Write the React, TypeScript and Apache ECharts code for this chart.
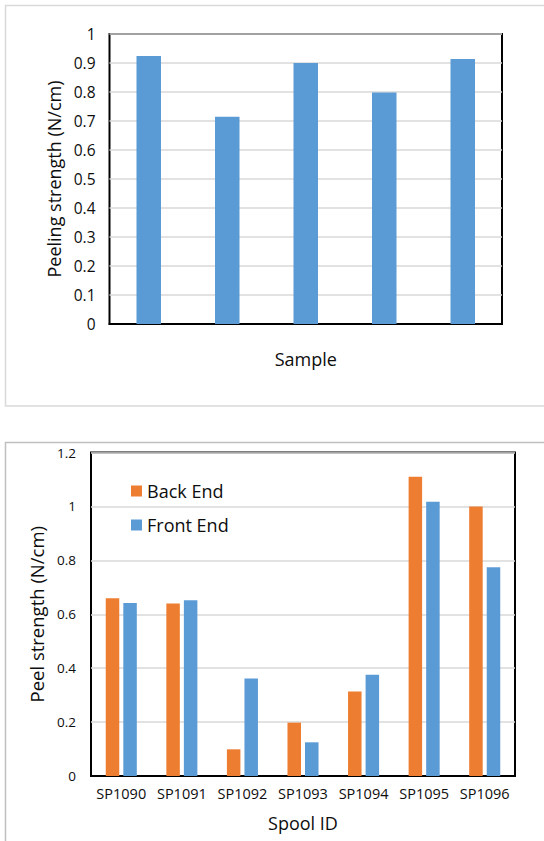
import React, { useEffect, useRef } from "react";
import * as echarts from "echarts";

const sampleCategories = ["1", "2", "3", "4", "5"];
const peelingStrength = [0.924, 0.715, 0.9, 0.798, 0.914];

const spoolIds = ["SP1090", "SP1091", "SP1092", "SP1093", "SP1094", "SP1095", "SP1096"];
const backEnd = [0.659, 0.64, 0.099, 0.198, 0.313, 1.11, 1.0];
const frontEnd = [0.642, 0.652, 0.362, 0.125, 0.376, 1.017, 0.774];

const FONT = "Open Sans";
const ORANGE = "#ED7D31";
const BLUE = "#5B9BD5";
const TEXT = "#0d0d0d";

export default function App() {
  const ref = useRef<HTMLDivElement>(null);
  useEffect(() => {
    if (!ref.current) return;
    const chart = echarts.init(ref.current, undefined, { renderer: "svg" });
    chart.setOption({
      animation: false,
      backgroundColor: "#fff",
      textStyle: { fontFamily: FONT },
      graphic: [
        {
          type: "rect",
          shape: { x: 5.5, y: 5.5, width: 560, height: 400.5 },
          style: { fill: "none", stroke: "#d9d9d9", lineWidth: 1.5 },
          silent: true,
        },
        {
          type: "rect",
          shape: { x: 5.5, y: 442.5, width: 560, height: 420 },
          style: { fill: "none", stroke: "#bfbfbf", lineWidth: 1.5 },
          silent: true,
        },
      ],
      grid: [
        {
          left: 109.5,
          right: 42,
          top: 34,
          bottom: 517,
          show: true,
          borderColor: "#000",
          borderWidth: 2,
          backgroundColor: "transparent",
        },
        {
          left: 91,
          right: 29,
          top: 452.5,
          bottom: 65,
          show: true,
          borderColor: "#000",
          borderWidth: 2,
          backgroundColor: "transparent",
        },
      ],
      legend: {
        show: true,
        orient: "vertical",
        left: 131,
        top: 482,
        padding: 0,
        itemWidth: 11,
        itemHeight: 11,
        itemGap: 16,
        icon: "rect",
        textStyle: { fontFamily: FONT, fontSize: 18, color: TEXT },
        data: ["Back End", "Front End"],
      },
      xAxis: [
        {
          type: "category",
          gridIndex: 0,
          data: sampleCategories,
          axisLine: { show: true, lineStyle: { color: "#000", width: 2 } },
          axisTick: { show: false },
          axisLabel: { show: false },
          splitLine: { show: false },
          name: "Sample",
          nameLocation: "middle",
          nameGap: 26,
          nameTextStyle: { fontFamily: FONT, fontSize: 18, color: TEXT },
        },
        {
          type: "category",
          gridIndex: 1,
          data: spoolIds,
          axisLine: { show: true, lineStyle: { color: "#000", width: 2 } },
          axisTick: { show: false },
          axisLabel: { fontFamily: FONT, fontSize: 14.5, color: TEXT, margin: 10, interval: 0 },
          splitLine: { show: false },
          name: "Spool ID",
          nameLocation: "middle",
          nameGap: 38,
          nameTextStyle: { fontFamily: FONT, fontSize: 18, color: TEXT },
        },
      ],
      yAxis: [
        {
          type: "value",
          gridIndex: 0,
          min: 0,
          max: 1,
          interval: 0.1,
          axisLine: { show: false },
          axisTick: { show: false },
          axisLabel: { fontFamily: FONT, fontSize: 15.5, color: TEXT, margin: 14 },
          splitLine: { show: true, lineStyle: { color: "#d9d9d9", width: 1.5 } },
          name: "Peeling strength (N/cm)",
          nameLocation: "middle",
          nameGap: 47,
          nameTextStyle: { fontFamily: FONT, fontSize: 18, color: TEXT },
        },
        {
          type: "value",
          gridIndex: 1,
          min: 0,
          max: 1.2,
          interval: 0.2,
          axisLine: { show: false },
          axisTick: { show: false },
          axisLabel: { fontFamily: FONT, fontSize: 13.5, color: TEXT, margin: 15 },
          splitLine: { show: true, lineStyle: { color: "#d9d9d9", width: 1.5 } },
          name: "Peel strength (N/cm)",
          nameLocation: "middle",
          nameGap: 44,
          nameTextStyle: { fontFamily: FONT, fontSize: 18.5, color: TEXT },
        },
      ],
      series: [
        {
          name: "Peeling strength",
          type: "bar",
          xAxisIndex: 0,
          yAxisIndex: 0,
          data: peelingStrength,
          barWidth: 24.5,
          itemStyle: { color: BLUE },
        },
        {
          name: "Back End",
          type: "bar",
          xAxisIndex: 1,
          yAxisIndex: 1,
          data: backEnd,
          barWidth: 13.5,
          barGap: "30%",
          itemStyle: { color: ORANGE },
        },
        {
          name: "Front End",
          type: "bar",
          xAxisIndex: 1,
          yAxisIndex: 1,
          data: frontEnd,
          barWidth: 13.5,
          barGap: "30%",
          itemStyle: { color: BLUE },
        },
      ],
    });
    return () => chart.dispose();
  }, []);
  return (
    <div
      ref={ref}
      style={{ position: "absolute", left: 0, top: 0, width: 544, height: 841 }}
    />
  );
}
